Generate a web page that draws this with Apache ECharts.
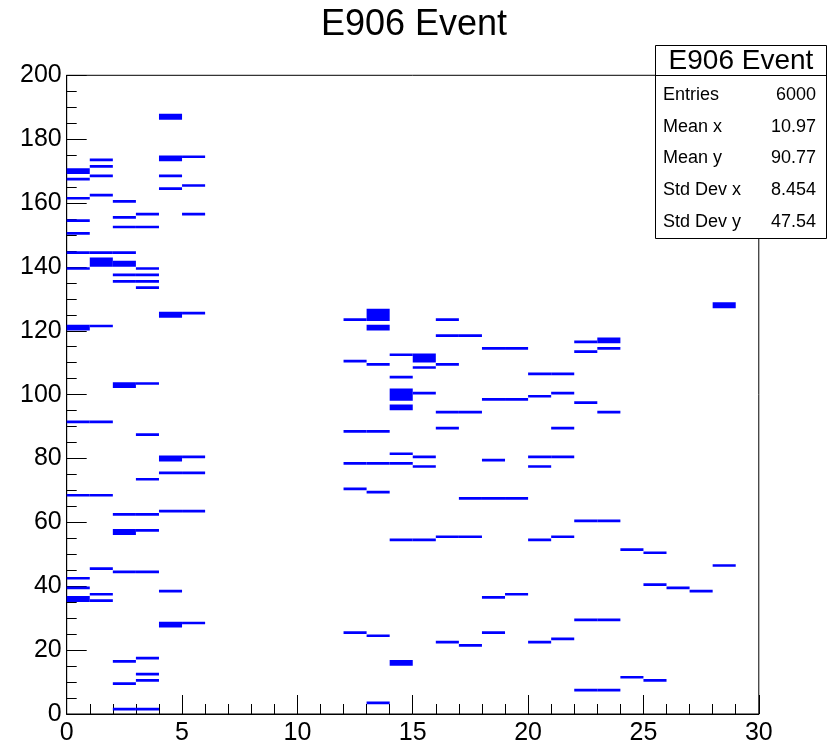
<!DOCTYPE html>
<html>
<head>
<meta charset="utf-8">
<script src="https://cdn.jsdelivr.net/npm/echarts@6/dist/echarts.min.js"></script>
<style>
  html, body { margin: 0; padding: 0; background: #fff; }
  #chart { width: 828px; height: 746px; }
</style>
</head>
<body>
<div id="chart"></div>
<script>
// ---- Data ----
const chartTitle = 'E906 Event';
const xTicks = [0, 5, 10, 15, 20, 25, 30];
const yTicks = [0, 20, 40, 60, 80, 100, 120, 140, 160, 180, 200];

// x bin (1 unit wide) of each column that has hits
const hitColumns = [0, 1, 2, 3, 4, 5, 12, 13, 14, 15, 16, 17, 18, 19, 20, 21, 22, 23, 24, 25, 26, 27, 28];
// y bins (1 unit tall) filled in each column
const hitRows = [
  [169, 170, 167, 161, 154, 150, 144, 139, 120, 121, 91, 68, 42, 39, 35, 36],
  [173, 171, 168, 162, 144, 140, 141, 142, 121, 91, 68, 45, 37, 35],
  [160, 155, 152, 144, 140, 141, 137, 135, 102, 103, 62, 56, 57, 44, 16, 9, 1],
  [156, 152, 139, 137, 135, 133, 103, 87, 73, 62, 57, 44, 17, 12, 10, 1],
  [186, 187, 173, 174, 168, 164, 124, 125, 79, 80, 75, 63, 38, 27, 28],
  [174, 165, 156, 125, 80, 75, 63, 28],
  [123, 110, 88, 78, 70, 25],
  [123, 124, 125, 126, 120, 121, 109, 88, 78, 69, 24, 3],
  [112, 105, 98, 99, 100, 101, 95, 96, 81, 78, 54, 15, 16],
  [112, 110, 111, 108, 100, 80, 77, 54],
  [123, 118, 109, 94, 89, 55, 22],
  [118, 94, 67, 55, 21],
  [114, 98, 79, 67, 36, 25],
  [114, 98, 67, 37],
  [106, 99, 80, 77, 54, 22],
  [106, 100, 89, 80, 55, 23],
  [116, 113, 97, 60, 29, 7],
  [116, 117, 114, 94, 60, 29, 7],
  [51, 11],
  [50, 40, 10],
  [39],
  [38],
  [127, 128, 46]
];

const statLabels = ['Entries', 'Mean x', 'Mean y', 'Std Dev x', 'Std Dev y'];
const statValues = ['6000', '10.97', '90.77', '8.454', '47.54'];

// ---- Build runs of contiguous filled bins: [x, yStart, yEnd] ----
const runs = [];
hitColumns.forEach(function (x, i) {
  const ys = hitRows[i].slice().sort(function (a, b) { return a - b; });
  let start = ys[0], prev = ys[0];
  for (let k = 1; k <= ys.length; k++) {
    const y = ys[k];
    if (k < ys.length && y === prev + 1) { prev = y; continue; }
    runs.push([x, start, prev + 1]);
    start = y; prev = y;
  }
});

const FONT = 'Liberation Sans, Arial, Helvetica, sans-serif';
const chart = echarts.init(document.getElementById('chart'), null, { renderer: 'canvas' });

const statGraphics = [
  { type: 'rect', shape: { x: 655.5, y: 45.5, width: 171, height: 193 },
    style: { fill: '#fff', stroke: '#000', lineWidth: 1 }, z: 100 },
  { type: 'line', shape: { x1: 655.5, y1: 75.5, x2: 826.5, y2: 75.5 },
    style: { stroke: '#000', lineWidth: 1 }, z: 101 },
  { type: 'text', x: 741, y: 61, z: 102,
    style: { text: chartTitle, font: '28px ' + FONT, fill: '#000', textAlign: 'center', textVerticalAlign: 'middle' } }
];
const rowY = [95, 127, 158.5, 190.5, 222.5];
statLabels.forEach(function (lab, i) {
  statGraphics.push({ type: 'text', x: 663, y: rowY[i], z: 102,
    style: { text: lab, font: '18px ' + FONT, fill: '#000', textAlign: 'left', textVerticalAlign: 'middle' } });
  statGraphics.push({ type: 'text', x: 816, y: rowY[i], z: 102,
    style: { text: statValues[i], font: '18px ' + FONT, fill: '#000', textAlign: 'right', textVerticalAlign: 'middle' } });
});

const option = {
  animation: false,
  backgroundColor: '#fff',
  title: {
    text: chartTitle, left: 'center', top: 2,
    textStyle: { fontFamily: FONT, fontSize: 36, fontWeight: 'normal', color: '#000' }
  },
  grid: {
    left: 66.7, right: 69.2, top: 75.3, bottom: 30.7,
    show: true, borderColor: '#000', borderWidth: 1, backgroundColor: 'transparent'
  },
  xAxis: {
    type: 'value', min: xTicks[0], max: xTicks[xTicks.length - 1], interval: 5,
    axisLine: { show: true, onZero: false, lineStyle: { color: '#000', width: 1 } },
    axisTick: { show: true, inside: true, length: 19, lineStyle: { color: '#000' } },
    minorTick: { show: true, splitNumber: 5, length: 10, lineStyle: { color: '#000' } },
    splitLine: { show: false },
    axisLabel: { color: '#000', fontFamily: FONT, fontSize: 25, margin: 7 }
  },
  yAxis: {
    type: 'value', min: yTicks[0], max: yTicks[yTicks.length - 1], interval: 20,
    axisLine: { show: true, onZero: false, lineStyle: { color: '#000', width: 1 } },
    axisTick: { show: true, inside: true, length: 20, lineStyle: { color: '#000' } },
    minorTick: { show: true, splitNumber: 4, length: 10, lineStyle: { color: '#000' } },
    splitLine: { show: false },
    axisLabel: { color: '#000', fontFamily: FONT, fontSize: 25, margin: 5 }
  },
  series: [{
    type: 'custom',
    clip: true,
    data: runs,
    encode: { x: 0, y: [1, 2] },
    renderItem: function (params, api) {
      const topLeft = api.coord([api.value(0), api.value(2)]);
      const botRight = api.coord([api.value(0) + 1, api.value(1)]);
      return {
        type: 'rect',
        shape: { x: topLeft[0], y: topLeft[1] + 0.25, width: botRight[0] - topLeft[0], height: botRight[1] - topLeft[1] - 0.5 },
        style: { fill: '#0000ff' }
      };
    }
  }],
  graphic: statGraphics
};
chart.setOption(option);
</script>
</body>
</html>
